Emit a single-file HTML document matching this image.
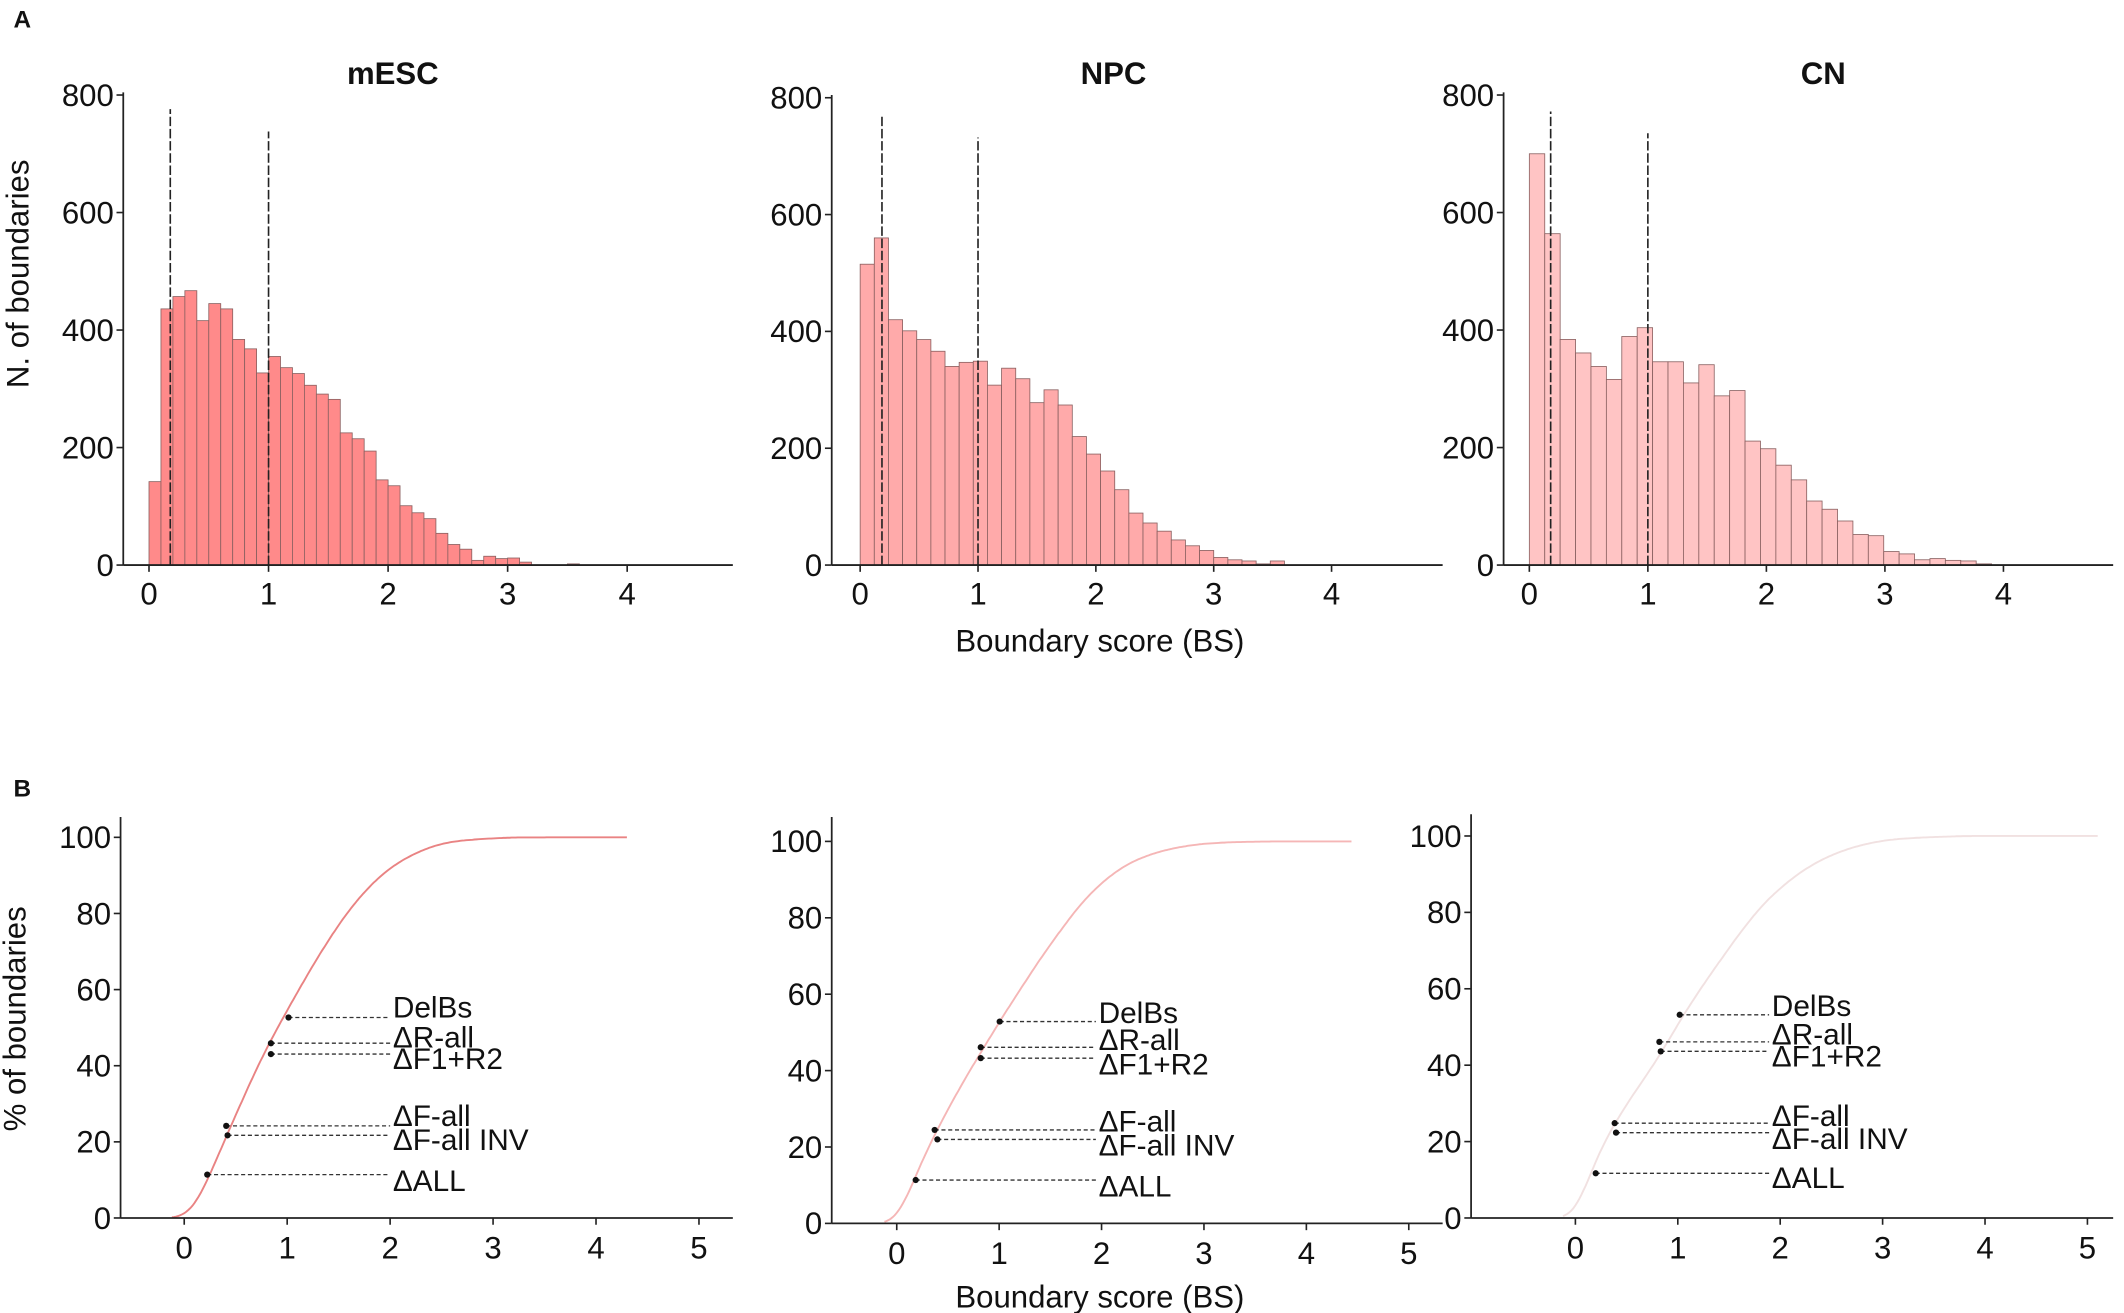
<!DOCTYPE html>
<html><head><meta charset="utf-8"><style>
html,body{margin:0;padding:0;background:#fff}
svg{display:block}
text{font-family:"Liberation Sans",Arial,sans-serif;fill:#111}
</style></head><body>
<svg id="s" width="2124" height="1313" viewBox="0 0 1568 969" xmlns="http://www.w3.org/2000/svg">
<text x="10" y="20" font-size="18" font-weight="bold">A</text>
<text x="10" y="588" font-size="18" font-weight="bold">B</text>
<text x="290" y="62" font-size="23" font-weight="bold" text-anchor="middle">mESC</text>
<text x="822" y="62" font-size="23" font-weight="bold" text-anchor="middle">NPC</text>
<text x="1346" y="62" font-size="23" font-weight="bold" text-anchor="middle">CN</text>
<text transform="translate(21,202) rotate(-90)" font-size="23" text-anchor="middle">N. of boundaries</text>
<text x="812" y="481" font-size="23" text-anchor="middle">Boundary score (BS)</text>
<text transform="translate(19,752) rotate(-90)" font-size="23" text-anchor="middle">% of boundaries</text>
<text x="812" y="965" font-size="23" text-anchor="middle">Boundary score (BS)</text>
<g id="g"></g>
</svg>
<script>
var NS="http://www.w3.org/2000/svg",G=document.getElementById('g');
function el(t,a,txt){var e=document.createElementNS(NS,t);for(var k in a)e.setAttribute(k,a[k]);if(txt!=null)e.textContent=txt;G.appendChild(e);return e;}
var FS=23;
var H=[
 {ax:91,x0:110,ppu:88.25,y0:417,ytop:70,end:541,bw:0.1,fill:"#ff8a8a",d1:0.178,t1:776,t2:738,
  v:[142,436,457,467,416,445,436,384,368,327,355,336,326,306,291,282,225,215,194,145,135,101,89,79,54,35,27,8,15,11,12,5,0,0,0,2]},
 {ax:614,x0:635,ppu:87,y0:417,ytop:72,end:1065,bw:0.12,fill:"#ffaaaa",d1:0.185,t1:769,t2:732,
  v:[515,560,420,401,386,366,340,347,349,308,337,319,278,300,274,220,190,161,129,89,72,58,43,33,25,13,9,7,2,7]},
 {ax:1110,x0:1129,ppu:87.5,y0:417,ytop:70,end:1560,bw:0.13,fill:"#ffc4c4",d1:0.18,t1:772,t2:735,
  v:[700,564,384,361,338,316,389,404,346,346,310,341,288,297,211,198,170,145,109,95,75,52,50,23,19,9,11,8,7,2]}
];
H.forEach(function(h){
 var pc=(h.y0-h.ytop)/800;
 h.v.forEach(function(v,i){ if(v<=0)return;
  el('rect',{x:h.x0+i*h.bw*h.ppu,y:h.y0-v*pc,width:h.bw*h.ppu,height:v*pc,fill:h.fill,stroke:"#8a6060","stroke-width":0.6});});
 [[h.d1,h.t1],[1,h.t2]].forEach(function(d){var x=h.x0+d[0]*h.ppu;
  el('line',{x1:x,x2:x,y1:h.y0,y2:h.y0-d[1]*pc,stroke:"#222","stroke-width":1.2,"stroke-dasharray":"7,2"});});
 el('line',{x1:h.ax,x2:h.ax,y1:h.ytop-2,y2:h.y0,stroke:"#222","stroke-width":1.3});
 el('line',{x1:h.ax,x2:h.end,y1:h.y0,y2:h.y0,stroke:"#222","stroke-width":1.3});
 for(var k=0;k<=4;k++){var y=h.y0-k*200*pc;
  el('line',{x1:h.ax-5,x2:h.ax,y1:y,y2:y,stroke:"#222","stroke-width":1.2});
  el('text',{x:h.ax-7,y:y+8,"font-size":FS,"text-anchor":"end"},String(k*200));}
 for(var k=0;k<=4;k++){var x=h.x0+k*h.ppu;
  el('line',{x1:x,x2:x,y1:h.y0,y2:h.y0+5,stroke:"#222","stroke-width":1.2});
  el('text',{x:x,y:h.y0+29,"font-size":FS,"text-anchor":"middle"},String(k));}
});
function erf(x){var t=1/(1+0.3275911*Math.abs(x));var y=1-(((((1.061405429*t-1.453152027)*t)+1.421413741)*t-0.284496736)*t+0.254829592)*t*Math.exp(-x*x);return x>=0?y:-y;}
var B=[
 {h:0,ax:89,top:603,y0:899,y100:618,x0:136,ppu:76,end:541,xe:4.3,col:"#e98383",lx:290,
  m:[[213,751],[200,770],[200,778],[167,831],[168,838],[153,867]],ly:[743,765,781,823,841,871]},
 {h:1,ax:614,top:603,y0:903,y100:621,x0:662,ppu:75.6,end:1065,xe:4.45,col:"#f5b6b6",lx:811,
  m:[[738,754],[724,773],[724,781],[690,834],[692,841],[676,871]],ly:[747,767,785,827,845,875]},
 {h:2,ax:1086,top:601,y0:899,y100:617,x0:1163,ppu:75.6,end:1560,xe:5.1,col:"#f1e1e1",lx:1308,
  m:[[1240,749],[1225,769],[1226,776],[1192,829],[1193,836],[1178,866]],ly:[742,763,779,823,840,869]}
];
var labs=["DelBs","\u0394R-all","\u0394F1+R2","\u0394F-all","\u0394F-all INV","\u0394ALL"];
B.forEach(function(b){
 var h=H[b.h],tot=0;h.v.forEach(function(v){tot+=v;});
 var sd=0.11,pts=[];
 for(var x=-0.12;x<=b.xe+1e-9;x+=0.02){var c=0;
  h.v.forEach(function(v,i){var c0=(i+0.5)*h.bw;c+=v*0.5*(1+erf((x-c0)/(sd*Math.SQRT2)));});
  var p=c/tot*100;pts.push((b.x0+x*b.ppu).toFixed(1)+","+(b.y0-p*(b.y0-b.y100)/100).toFixed(1));}
 el('polyline',{points:pts.join(" "),fill:"none",stroke:b.col,"stroke-width":1.4});
 el('line',{x1:b.ax,x2:b.ax,y1:b.top,y2:b.y0,stroke:"#222","stroke-width":1.3});
 el('line',{x1:b.ax,x2:b.end,y1:b.y0,y2:b.y0,stroke:"#222","stroke-width":1.3});
 var st=(b.y0-b.y100)/5;
 for(var k=0;k<=5;k++){var y=b.y0-k*st;
  el('line',{x1:b.ax-5,x2:b.ax,y1:y,y2:y,stroke:"#222","stroke-width":1.2});
  el('text',{x:b.ax-7,y:y+8,"font-size":FS,"text-anchor":"end"},String(k*20));}
 for(var k=0;k<=5;k++){var x=b.x0+k*b.ppu;
  el('line',{x1:x,x2:x,y1:b.y0,y2:b.y0+5,stroke:"#222","stroke-width":1.2});
  el('text',{x:x,y:b.y0+30,"font-size":FS,"text-anchor":"middle"},String(k));}
 b.m.forEach(function(m,i){
  el('line',{x1:m[0],x2:b.lx-2,y1:m[1],y2:m[1],stroke:"#333","stroke-width":1,"stroke-dasharray":"3,2"});
  el('circle',{cx:m[0],cy:m[1],r:2.3,fill:"#111"});
  el('text',{x:b.lx,y:b.ly[i]+8,"font-size":22},labs[i]);});
});
</script>
</body></html>
